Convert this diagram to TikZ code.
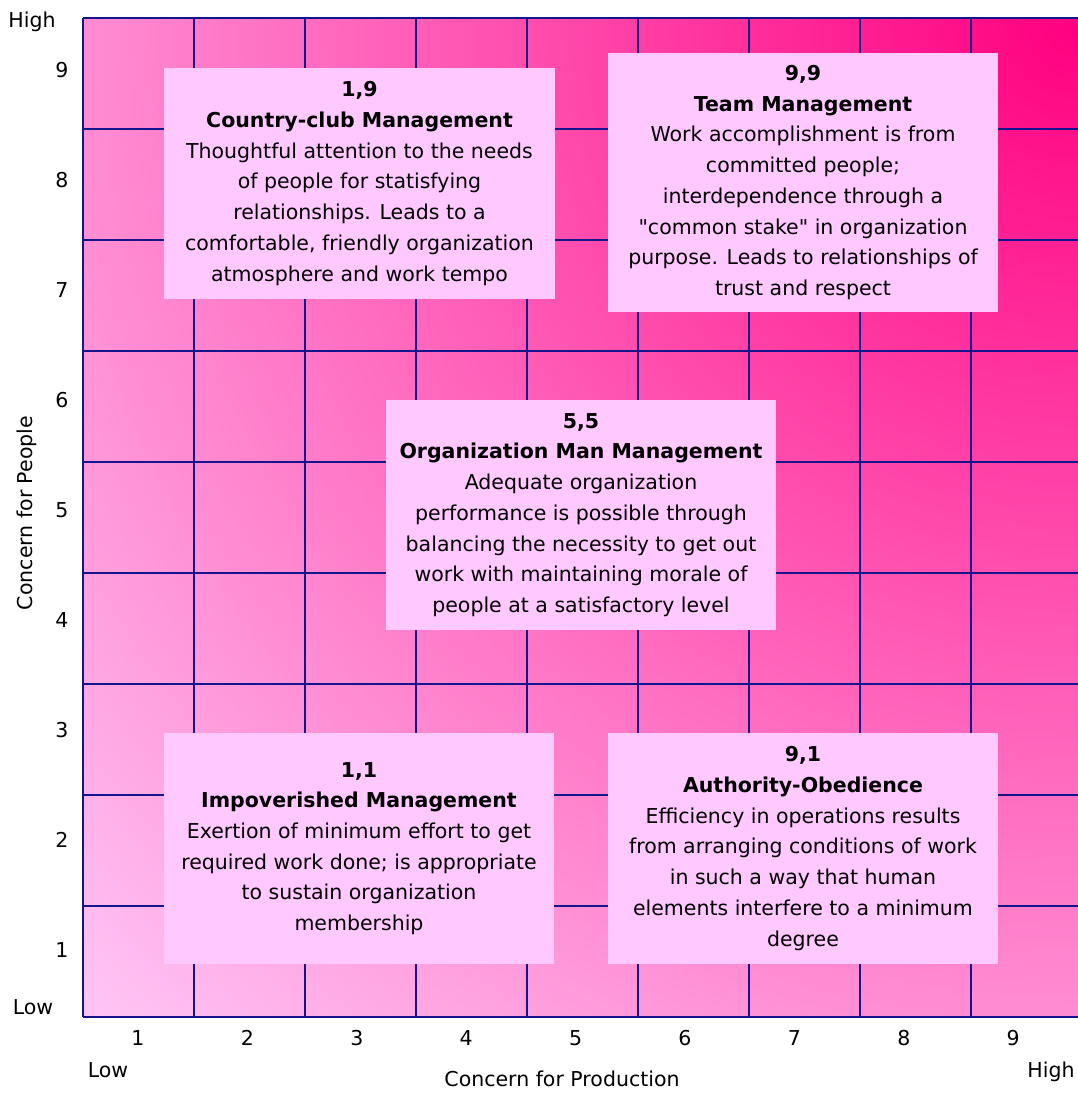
\documentclass[tikz,border=0pt]{standalone}
\usepackage{fontspec}
\setmainfont{DejaVu Sans}[Ligatures=TeXOff]
\definecolor{gridnavy}{RGB}{20,20,140}
\definecolor{hotpink}{RGB}{255,0,128}
\definecolor{palepink}{RGB}{255,198,245}
\definecolor{boxpink}{RGB}{255,200,255}
% radial glow spreading from the high/high corner of the grid
% (the central 50bp square is fitted to the shaded path, so 25bp is its rim)
\pgfdeclareradialshading{gridglow}{\pgfpoint{0bp}{0bp}}{color(0bp)=(hotpink); color(25bp)=(palepink); color(50bp)=(palepink)}

\begin{document}
\begin{tikzpicture}[x=1pt,y=-1pt,
  stylebox/.style={fill=boxpink, inner sep=0pt, align=center,
    font=\fontsize{20.5}{30.7}\selectfont},
  axislabel/.style={font=\fontsize{20.5}{24}\selectfont, inner sep=0pt},
  gridline/.style={draw=gridnavy, line width=1.6pt}]
\useasboundingbox (0,0) rectangle (1078,1093);
\fill[white] (0,0) rectangle (1078,1093);

% shaded background of the grid
\begin{scope}
  \clip (83,17.7) rectangle (1078,1016.7);
  \shade[shading=gridglow] (1078,17.7) circle (1410);
\end{scope}

% grid lines
\foreach \k in {0,...,8}
  \draw[gridline] ({83+111*\k},17.7) -- ({83+111*\k},1016.7);
\foreach \k in {0,...,9}
  \draw[gridline] (83,{17.7+111*\k}) -- (1078,{17.7+111*\k});

% management styles
\node[stylebox, minimum width=391, minimum height=231] (countryclub) at (359.5,183.5)
  {\textbf{1,9}\\\textbf{Country-club Management}\\
   Thoughtful attention to the needs\\of people for statisfying\\
   relationships. Leads to a\\comfortable, friendly organization\\
   atmosphere and work tempo};
\node[stylebox, minimum width=390, minimum height=259] (team) at (803,182.5)
  {\textbf{9,9}\\\textbf{Team Management}\\
   Work accomplishment is from\\committed people;\\
   interdependence through a\\"common stake" in organization\\
   purpose. Leads to relationships of\\trust and respect};
\node[stylebox, minimum width=390, minimum height=230] (orgman) at (581,515)
  {\textbf{5,5}\\\textbf{Organization Man Management}\\
   Adequate organization\\performance is possible through\\
   balancing the necessity to get out\\work with maintaining morale of\\
   people at a satisfactory level};
\node[stylebox, minimum width=390, minimum height=231] (impoverished) at (359,848.5)
  {\textbf{1,1}\\\textbf{Impoverished Management}\\
   Exertion of minimum effort to get\\required work done; is appropriate\\
   to sustain organization\\membership};
\node[stylebox, minimum width=390, minimum height=231] (authority) at (803,848.5)
  {\textbf{9,1}\\\textbf{Authority-Obedience}\\
   Efficiency in operations results\\from arranging conditions of work\\
   in such a way that human\\elements interfere to a minimum\\degree};

% axis scales
\foreach \k in {1,...,9} {
  \node[axislabel] (ytick\k) at (62,{70+(9-\k)*110}) {\k};
  \node[axislabel] (xtick\k) at ({138+109.4*(\k-1)},1038) {\k};
}

% axis ends and titles
\node[axislabel, anchor=base] (yhigh) at (32,27) {High};
\node[axislabel] (ylow) at (33,1007) {Low};
\node[axislabel] (xlow) at (108,1070) {Low};
\node[axislabel, anchor=base] (xhigh) at (1051,1077) {High};
\node[axislabel] (xtitle) at (562,1078.5) {Concern for Production};
\node[axislabel, rotate=90, anchor=base] (ytitle) at (32,513) {Concern for People};
\end{tikzpicture}
\end{document}
